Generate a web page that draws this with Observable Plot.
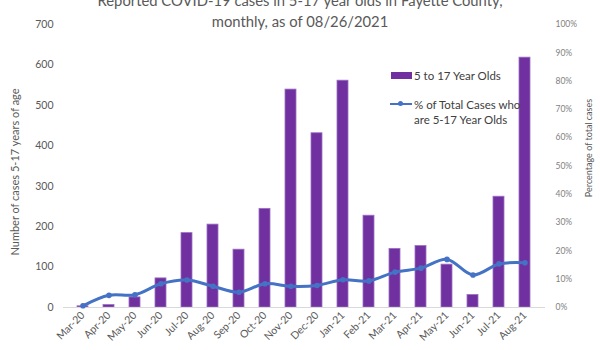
<!DOCTYPE html>
<html>
<head>
<meta charset="utf-8">
<script src="https://cdn.jsdelivr.net/npm/d3@7"></script>
<script src="https://cdn.jsdelivr.net/npm/@observablehq/plot@0.6"></script>
<style>
  body { margin: 0; background: #fff; font-family: Lato, "Open Sans", sans-serif; }
  #wrap { position: relative; width: 600px; height: 350px; overflow: hidden; }
  #chart { position: absolute; left: 0; top: 0; }
  #title { position: absolute; left: 0; top: -10px; width: 600px; text-align: center;
           font-size: 14.8px; line-height: 21px; color: #595959; z-index: 2; }
  .leg { position: absolute; font-size: 11.5px; color: #404040; line-height: 15px; z-index: 2; }
  .sw { position: absolute; }
</style>
</head>
<body>
<div id="wrap">
  <div id="title">Reported COVID-19 cases in 5-17 year olds in Fayette County,<br>monthly, as of 08/26/2021</div>
  <div id="chart"></div>
  <div class="sw" style="left:391px;top:72px;width:21px;height:7px;background:#7030A0"></div>
  <div class="leg" style="left:414px;top:67.5px">5 to 17 Year Olds</div>
  <div class="sw" style="left:390px;top:102.5px;width:22px;height:2.5px;background:#4472C4"></div>
  <div class="sw" style="left:398px;top:101px;width:5px;height:5px;border-radius:3px;background:#4472C4"></div>
  <div class="leg" style="left:414px;top:96.5px">% of Total Cases who<br>are 5-17 Year Olds</div>
</div>
<script>
const months = ["Mar-20","Apr-20","May-20","Jun-20","Jul-20","Aug-20","Sep-20","Oct-20","Nov-20","Dec-20",
                "Jan-21","Feb-21","Mar-21","Apr-21","May-21","Jun-21","Jul-21","Aug-21"];
const cases = [3, 6, 25, 72, 184, 205, 143, 244, 539, 431, 561, 227, 145, 152, 106, 31, 274, 618];
const pctOfTotal = [0.6, 4.3, 4.5, 8.4, 9.7, 7.5, 5.4, 8.4, 7.5, 7.8, 9.8, 9.4, 12.5, 13.9, 17.0, 11.5, 15.4, 15.8];
const leftTicks = [0, 100, 200, 300, 400, 500, 600, 700];
const rightTicksPct = [0, 10, 20, 30, 40, 50, 60, 70, 80, 90, 100];

const yMax = 700;
const pctScale = yMax / 100;
const rows = months.map((m, i) => ({month: m, cases: cases[i], pct: pctOfTotal[i], pctY: pctOfTotal[i] * pctScale}));

const chart = Plot.plot({
  width: 600,
  height: 350,
  marginLeft: 63,
  marginRight: 55,
  marginTop: 24,
  marginBottom: 43,
  style: {fontFamily: "Lato, 'Open Sans', sans-serif", background: "transparent"},
  x: {domain: months, paddingInner: 0.56, paddingOuter: 0.28},
  y: {domain: [0, yMax]},
  marks: [
    Plot.barY(rows, {x: "month", y: "cases", fill: "#7030A0", stroke: "#9b6fc4", strokeWidth: 0.8}),
    Plot.ruleY([0], {stroke: "#d9d9d9", strokeWidth: 1.2}),
    Plot.line(rows, {x: "month", y: "pctY", stroke: "#4472C4", strokeWidth: 3, curve: "catmull-rom"}),
    Plot.dot(rows, {x: "month", y: "pctY", fill: "#4472C4", r: 2.8}),
    Plot.axisX({tickSize: 0, tickRotate: -45, tickPadding: 6, fontSize: 10.5, color: "#595959", label: null}),
    Plot.axisY(leftTicks, {anchor: "left", tickSize: 0, tickPadding: 10, fontSize: 10.5, color: "#595959",
      label: null}),
    Plot.axisY(rightTicksPct.map(p => p * pctScale), {anchor: "right", tickSize: 0, tickPadding: 10, fontSize: 8.5,
      color: "#7f7f7f", tickFormat: d => Math.round(d / pctScale) + "%", label: null}),
    Plot.text(["Number of cases 5-17 years of age"], {frameAnchor: "left", textAnchor: "middle", dx: -48, dy: 6,
      rotate: -90, fontSize: 11, fill: "#595959"}),
    Plot.text(["Percentage of total cases"], {frameAnchor: "right", textAnchor: "middle", dx: 44, dy: -18,
      rotate: -90, fontSize: 9, fill: "#595959"})
  ]
});
document.getElementById("chart").appendChild(chart);
</script>
</body>
</html>
